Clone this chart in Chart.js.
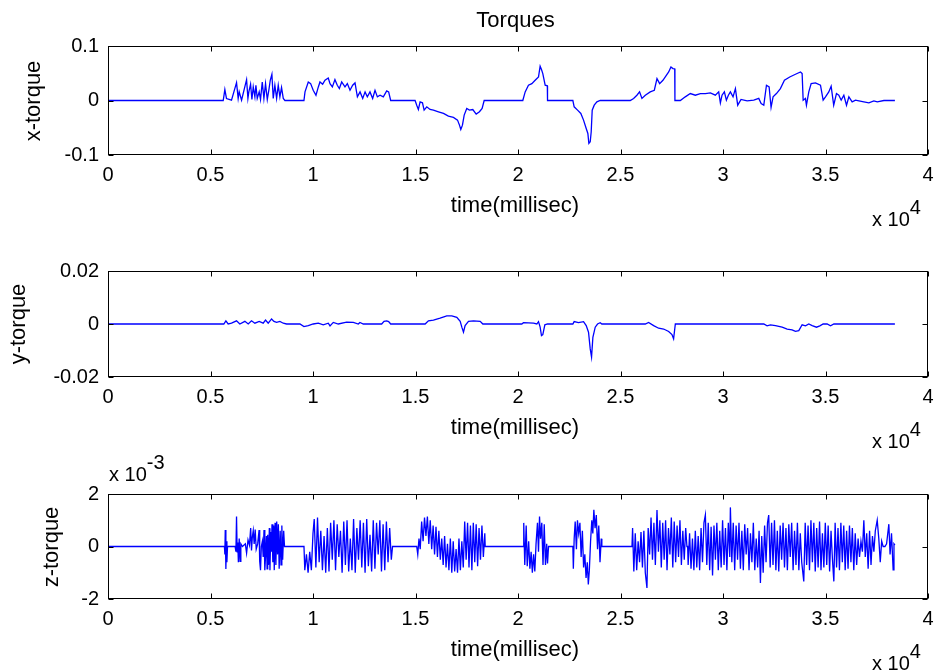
<!DOCTYPE html>
<html>
<head>
<meta charset="utf-8">
<title>Torques</title>
<script src="https://cdn.jsdelivr.net/npm/chart.js@4.4.0/dist/chart.umd.min.js"></script>
<style>
  html, body { margin: 0; padding: 0; background: #fff; }
  #fig { position: relative; width: 938px; height: 672px; overflow: hidden; }
  #fig canvas { position: absolute; left: 0; }
  #fig svg { position: absolute; left: 0; top: 0; pointer-events: none; }
</style>
</head>
<body>
<div id="fig">
  <canvas id="xChart" width="938" height="164" style="top:31px"></canvas>
  <canvas id="yChart" width="938" height="161" style="top:256px"></canvas>
  <canvas id="zChart" width="938" height="160" style="top:479px"></canvas>
  <svg width="938" height="672" font-family="Liberation Sans, Arial, sans-serif" fill="#000">
    <text x="515.5" y="27" font-size="22" text-anchor="middle">Torques</text>

    <text transform="translate(40,101) rotate(-90)" font-size="22" text-anchor="middle">x-torque</text>
    <text transform="translate(25,324) rotate(-90)" font-size="22" text-anchor="middle">y-torque</text>
    <text transform="translate(58,547) rotate(-90)" font-size="22" text-anchor="middle">z-torque</text>

    <text x="515" y="212" font-size="22" text-anchor="middle">time(millisec)</text>
    <text x="515" y="434" font-size="22" text-anchor="middle">time(millisec)</text>
    <text x="515" y="656" font-size="22" text-anchor="middle">time(millisec)</text>

    <text x="872" y="226" font-size="20">x 10<tspan dy="-12">4</tspan></text>
    <text x="872" y="448" font-size="20">x 10<tspan dy="-12">4</tspan></text>
    <text x="872" y="670" font-size="20">x 10<tspan dy="-12">4</tspan></text>
    <text x="109" y="481" font-size="20">x 10<tspan dy="-12">-3</tspan></text>
  </svg>
</div>
<script>
// ---- dados (tempo em ms) ----
const xTicks = [0, 5000, 10000, 15000, 20000, 25000, 30000, 35000, 40000];

const xTorqueTime = [0, 5620, 5700, 5780, 6025, 6270, 6350, 6400, 6515, 6760, 6825, 6870, 6955, 7020, 7085, 7165, 7215, 7280, 7375, 7440, 7525, 7605, 7685, 7770, 7850, 7915, 7995, 8060, 8140, 8225, 8305, 8385, 8465, 8550, 8630,
  9558, 9610, 9770, 9885, 10010, 10145, 10260, 10340, 10470, 10585, 10745, 10830, 10945, 11070, 11185, 11285, 11400, 11560, 11675, 11805, 11935, 12050, 12165, 12295, 12425, 12540, 12650, 12780, 12910, 13025, 13140, 13270, 13430, 13595, 13690, 13790,
  14980, 15060, 15140, 15225, 15340, 15420, 15550, 15710, 15875, 16120, 16365, 16605, 16850, 17050, 17145, 17210, 17290, 17375, 17500, 17630, 17795, 17960, 18120, 18250, 18350,
  20234, 20350, 20510, 20675, 20836, 21000, 21080, 21145, 21210, 21325, 21430, 21440,
  22676, 22740, 22905, 23065, 23197, 23327, 23408, 23457, 23523, 23571, 23620, 23718, 23848, 24010,
  25476, 25640, 25800, 25930, 26045, 26210, 26450, 26650, 26780, 26910, 27070, 27235, 27350, 27460, 27560, 27645, 27655,
  27918, 28160, 28406, 28650, 28895, 29140, 29383, 29627, 29790, 29872, 29953, 30067, 30165, 30262, 30360, 30490, 30605, 30718, 30880, 31175, 31500, 31745, 31860, 31990, 32120, 32250, 32345, 32443, 32607, 32800, 32997, 33255, 33535, 33780, 33860, 33910,
  34020, 34070, 34185, 34300, 34510, 34755, 34885, 35000, 35160, 35275, 35400, 35535, 35650, 35765, 35895, 36025, 36140, 36300, 36465, 36630, 36870, 37116, 37360, 37525, 37850, 38385];
const xTorque = [0, 0, 0.0201, 0.0036, 0.0006, 0.0329, 0.0038, 0.0158, 0.0006, 0.0383, 0.0038, 0.0158, 0.0299, 0.0019, 0.0249, 0.0067, 0.028, 0.0038, 0.0158, 0.0019, 0.034, 0.0038, 0.031, 0.0019, 0.0201, 0.0371, 0.0481, 0.0038, 0.028, 0.0038, 0.028, 0.0067, 0.0238, 0.0038, 0,
  0, 0.0158, 0.034, 0.031, 0.0188, 0.0097, 0.0249, 0.034, 0.0299, 0.0371, 0.0414, 0.031, 0.0249, 0.0383, 0.028, 0.0219, 0.034, 0.0249, 0.031, 0.0188, 0.028, 0.0322, 0.0067, 0.0158, 0.0038, 0.0158, 0.0067, 0.0158, 0.0038, 0.0188, 0.0067, 0.0097, 0.0067, 0.0176, 0.0158, 0,
  0, -0.0086, -0.0165, -0.0025, -0.0043, -0.0177, -0.0116, -0.0165, -0.0177, -0.0207, -0.0238, -0.0287, -0.0311, -0.036, -0.0452, -0.0531, -0.0452, -0.0268, -0.0146, -0.0177, -0.0165, -0.025, -0.0207, -0.0146, 0,
  0, 0.0158, 0.028, 0.031, 0.0371, 0.0432, 0.0628, 0.0567, 0.0494, 0.028, 0.027, 0,
  0, -0.0116, -0.0177, -0.0238, -0.036, -0.0514, -0.0604, -0.0786, -0.0756, -0.0573, -0.0177, -0.0086, -0.0025, 0,
  0, 0.0038, 0.0097, 0.0158, 0.0038, 0.0097, 0.0158, 0.0188, 0.0401, 0.031, 0.0371, 0.0463, 0.0524, 0.0615, 0.0585, 0.058, 0,
  0, 0.0067, 0.0127, 0.0097, 0.0127, 0.0127, 0.014, 0.0097, 0.0158, -0.0043, 0.0097, 0.0158, 0.0006, 0.0097, 0.0158, 0.0067, 0.0219, -0.0086, 0.0019, -0.0007, 0.0006, 0.0038, -0.0055, -0.0086, 0.028, 0.0249, -0.0128, 0.0067, 0.0127, 0.0219, 0.0371, 0.0432, 0.0481, 0.0524, 0.0494, 0.0006,
  0.0038, -0.0086, 0.0158, 0.031, 0.0322, 0.028, 0.0006, 0.0067, 0.0158, 0.0262, -0.0086, 0.0127, 0.0097, 0.0006, 0.0097, -0.0086, 0.0067, -0.0025, 0.0006, -0.0007, -0.0025, -0.0043, -0.0007, -0.0025, 0, 0];

const yTorqueTime = [0, 5650, 5750, 5862, 6025, 6270, 6430, 6677, 6840, 7000, 7165, 7375, 7570, 7685, 7815, 7980, 8095, 8225, 8385, 8550, 8710,
  9363, 9558, 9770, 10010, 10260, 10500, 10745, 10830, 10990, 11235, 11640, 11968, 12210, 12290, 12455, 13350, 13465, 13595, 13690, 13790,
  15470, 15630, 15875, 16200, 16525, 16770, 17015, 17180, 17260, 17340, 17420, 17585, 17830, 18155, 18285,
  20185, 20267, 20510, 20755, 20918, 21000, 21080, 21145, 21210, 21310, 21440,
  22676, 22740, 22950, 23197, 23327, 23440, 23523, 23588, 23653, 23767, 23880, 24010, 24090,
  26210, 26370, 26617, 26860, 27105, 27350, 27510, 27590, 27675,
  31990, 32150, 32315, 32560, 32885, 33130, 33370, 33535, 33697, 33860, 34025, 34185, 34350, 34560, 34725, 34885, 35080, 35245, 35410, 38385];
const yTorque = [0, 0, 0.0012, 0, 0.0003, 0.0012, 0, 0.001, 0, 0.0012, 0.0003, 0.001, 0.0003, 0.0015, 0.0003, 0.0019, 0.001, 0.0006, 0.001, 0.0003, 0,
  0, -0.001, -0.0006, 0, 0.0003, -0.0003, 0.0003, -0.0007, 0.0006, 0, 0.0007, 0.0006, 0, 0.0006, 0, 0, 0.001, 0.0012, 0.0009, 0,
  0, 0.0012, 0.0015, 0.0022, 0.0031, 0.0031, 0.0025, 0.001, -0.0012, -0.0031, -0.0006, 0.001, 0.0012, 0.001, 0,
  0, 0.0005, 0.0004, 0.0003, 0, 0.0009, -0.0012, -0.0044, -0.004, -0.0003, 0,
  0, 0.0009, 0.0005, 0.0009, -0.0006, -0.0031, -0.0094, -0.0125, -0.005, -0.0012, 0, 0.0005, 0,
  0, 0.0006, -0.0006, -0.0016, -0.0019, -0.0028, -0.004, -0.0056, 0,
  0, -0.0007, -0.0003, -0.0006, -0.0012, -0.0019, -0.0022, -0.0028, -0.0025, -0.0003, -0.0007, 0, -0.0006, -0.0012, -0.0007, 0, 0, -0.0007, 0, 0];

// z-torque em unidades de 1e-3
const zTorqueTime = [0, 5680, 5700, 5720, 5750, 5780, 5800, 5830, 6200, 6240, 6270, 6300, 6330, 6360, 6400, 6440, 6480, 6560, 6700, 6760, 6830, 6900, 6960, 7000, 7040, 7085, 7130, 7180, 7230, 7300,
  7370, 7400, 7440, 7480, 7530, 7570, 7610, 7650, 7690, 7730, 7760, 7790, 7830, 7870, 7900, 7940, 7970, 8000, 8040, 8080, 8110, 8150, 8190, 8230, 8270, 8310, 8350, 8400, 8440, 8480, 8520, 8570, 8610,
  9560, 9600, 9680, 9760, 9840, 9920, 10000, 10060, 10140, 10220, 10300, 10380, 10460, 10540, 10620, 10700, 10780, 10860, 10940, 11020, 11100, 11180, 11260, 11340, 11420, 11500, 11580, 11660, 11740, 11820,
  11900, 11980, 12060, 12140, 12220, 12300, 12380, 12460, 12540, 12620, 12700, 12780, 12860, 12940, 13020, 13100, 13180, 13260, 13340, 13420, 13500, 13580, 13660, 13740, 13820, 13880,
  15060, 15110, 15170, 15230, 15300, 15370, 15440, 15510, 15580, 15650, 15720, 15790, 15860, 15930, 16000, 16070, 16140, 16210, 16280, 16350, 16420, 16490, 16560, 16630, 16700, 16770, 16840, 16910, 16980,
  17050, 17120, 17190, 17260, 17330, 17400, 17470, 17540, 17610, 17680, 17750, 17820, 17890, 17960, 18030, 18100, 18170, 18240, 18310, 18380, 18400,
  20260, 20280, 20330, 20400, 20450, 20520, 20580, 20640, 20700, 20760, 20820, 20880, 20950, 21000, 21050, 21100, 21160, 21220, 21280, 21340, 21400, 21440, 21490,
  22676, 22700, 22740, 22790, 22850, 22900, 22960, 23020, 23080, 23140, 23200, 23260, 23320, 23380, 23430, 23480, 23540, 23600, 23650, 23700, 23760, 23820, 23880, 23940, 24000, 24060, 24090,
  25560, 25590, 25650, 25720, 25790, 25860, 25930, 26000, 26070, 26140, 26210, 26290, 26350, 26420, 26490, 26560, 26630, 26700, 26780, 26850, 26920, 26990, 27060, 27130, 27200, 27270, 27340, 27410,
  27480, 27550, 27620, 27690, 27760, 27830, 27900, 27970, 28040, 28110, 28180, 28240,
  28275, 28300, 28370, 28440, 28510, 28580, 28650, 28720, 28790, 28860, 28930, 29000, 29070, 29140, 29210, 29280, 29350, 29420, 29490, 29560, 29630, 29700, 29770, 29840, 29910, 29980, 30050, 30120, 30190,
  30260, 30330, 30360, 30430, 30500, 30570, 30640, 30710, 30780, 30850, 30920, 30990, 31060, 31130, 31200, 31270, 31340, 31410, 31480, 31550, 31620, 31690, 31760, 31825, 31890, 31960, 32030, 32100, 32170,
  32230, 32300, 32370, 32440, 32510, 32580, 32650, 32720, 32790, 32860, 32930, 33000, 33070, 33140, 33210, 33280, 33350, 33420, 33490, 33560, 33630, 33700, 33770, 33840, 33940, 34010, 34080, 34150, 34220,
  34290, 34360, 34430, 34500, 34570, 34640, 34710, 34780, 34850, 34920, 34990, 35060, 35130, 35200, 35270, 35340, 35407, 35470, 35540, 35610, 35680, 35750, 35820, 35890, 35960, 36030, 36100, 36170, 36240,
  36310, 36380, 36450, 36520, 36590, 36660, 36730, 36800, 36870, 36940, 37010, 37080, 37150, 37220, 37290, 37360, 37430, 37523, 37600, 37670, 37740, 37810, 37900, 37980, 38090, 38150, 38220, 38300, 38340, 38385];
const zTorque = [0, 0, -0.3, 0.63, -0.86, 0.2, -0.6, 0, 0, -0.2, 1.14, -0.2, 0.15, -0.6, 0.3, -0.57, 0.1, 0, 0.1, -0.25, 0.25, 0.05, 0.7, -0.15, 0.35, 0.6, 0.1, 0.65, -0.1, 0.1,
  0.63, -0.56, -0.9, 0, 0.2, -0.4, 0.63, -0.9, -0.3, 0.4, -0.85, 0.45, -0.7, 0.7, -0.9, 0.55, -0.2, 0.85, -0.6, 0.8, -0.9, 0.9, -0.7, 0.95, -0.3, 0.85, -0.85, 0.6, -0.7, 0.8, -0.5, 0.6, 0,
  0, -0.9, -0.3, -1.0, -0.2, -0.9, 0.5, 1.05, -0.8, 1.1, -0.6, 0.6, -0.9, 0.4, -1.0, 0.7, -0.95, 0.9, -0.5, 1.0, -0.9, 0.85, -0.4, 0.6, -1.0, 0.95, -0.7, 1.0, -0.95, 0.3,
  -0.9, 1.05, -1.0, 0.7, -0.5, 1.0, -0.8, 0.9, -1.0, 1.05, -0.75, 0.45, -0.95, 1.0, -0.85, 0.9, -0.3, 1.0, -0.95, 0.85, -0.9, 0.95, -0.6, 0.7, -0.5, 0,
  0, -0.3, 0.3, -0.1, 0.95, 0.2, 1.1, 0.4, 1.14, 0.1, 1.0, -0.1, 0.8, -0.3, 0.75, -0.4, 0.6, -0.5, 0.3, -0.7, 0.4, -0.8, 0.1, -0.9, 0.3, -1.0, 0.2, -0.95, -0.1,
  -1.0, 0.3, -0.9, 0.2, -0.8, 0.95, -0.5, 0.9, -0.8, 0.8, -0.9, 0.9, -0.6, 0.85, -0.75, 0.7, -0.5, 0.8, -0.4, 0.5, 0,
  0, 0.9, -0.7, 0.8, -0.75, 0.2, -0.85, -0.2, -1.0, -0.3, -0.95, 0.1, 0.9, -0.2, 1.14, 0.3, 0.9, -0.7, 0.85, -0.7, 0.1, -0.65, 0,
  0, -0.85, 0.3, 0.95, -0.1, 1.0, 0.5, 0.9, -0.4, 0.6, -0.8, -0.3, -1.2, -0.6, -1.45, -0.9, 0.2, 1.0, 0.5, 1.4, 0.7, 1.2, -0.1, 0.8, -0.6, 0.3, 0,
  0, 0.7, -0.95, 0.5, -0.9, 0.2, -0.6, 0.55, -0.8, 0.6, -1.0, -1.58, 0.7, -0.3, 1.1, -0.5, 0.9, -0.7, 1.39, -0.2, 1.0, -0.8, 0.9, -0.5, 1.0, -0.9, 0.7, -0.3,
  1.1, -0.8, 0.95, -0.6, 0.8, -0.4, 1.0, -0.7, 0.6, -0.5, 0.7, 0,
  0, -0.7, 0.5, -0.85, 0.3, -0.9, 0.6, -0.8, 0.4, -0.9, 0.7, -0.6, 0.9, 1.2, -0.7, 0.9, -0.9, 0.75, -1.1, 0.8, -0.5, 0.9, -0.9, 0.6, -0.8, 1.0, -0.7, 0.7, -0.9,
  0.9, -0.4, 1.49, -0.6, 0.9, -0.9, 0.8, -0.5, 0.9, -0.85, 0.6, -0.9, 0.85, -0.3, 0.7, -0.9, 0.5, -0.6, 0.9, -0.9, 0.3, -0.8, 0.6, -1.39, 0.4, -1.0, 0.8, -0.6, 0.9,
  1.2, -0.8, 0.9, -0.7, 1.0, -0.9, 0.6, -0.95, 0.8, -0.5, 0.9, -0.8, 0.7, -0.9, 0.85, -0.4, 0.9, -0.9, 0.6, -0.7, 0.9, -0.9, 0.5, -0.6, -1.33, 0.9, -0.7, 0.8, -0.9,
  1.0, -0.6, 0.9, -0.95, 0.7, -0.8, 0.95, -0.9, 0.5, -0.8, 0.9, -0.7, 0.8, -0.95, 0.6, -0.5, -1.33, 0.9, -0.8, 0.7, -0.9, 0.9, -0.6, 0.8, -0.9, 0.6, -0.85, 0.8, -0.6,
  0.7, -0.9, 0.5, -0.7, 0.3, -0.4, 0.2, -0.2, 1.0, -0.4, 0.5, -0.85, 0.6, -0.7, 0.4, -0.2, 0.6, 1.0, 0.3, -0.6, 0.2, 0, 0, 0.1, 0.85, -0.3, 0.5, -0.89, 0.1, 0.05];

// ---- moldura estilo MATLAB: caixa + ticks para dentro ----
const frame = {
  id: 'frame',
  afterDraw(chart) {
    const { ctx, chartArea: a, scales: { x, y } } = chart;
    const L = Math.round(a.left) + 0.5, R = Math.round(a.right) - 0.5;
    const T = Math.round(a.top) + 0.5, B = Math.round(a.bottom) - 0.5;
    const tl = 5;
    ctx.save();
    ctx.strokeStyle = '#000';
    ctx.lineWidth = 1;
    ctx.strokeRect(L, T, R - L, B - T);
    ctx.beginPath();
    x.ticks.forEach(t => {
      const px = Math.round(x.getPixelForValue(t.value)) + 0.5;
      ctx.moveTo(px, B); ctx.lineTo(px, B - tl);
      ctx.moveTo(px, T); ctx.lineTo(px, T + tl);
    });
    y.ticks.forEach(t => {
      const py = Math.round(y.getPixelForValue(t.value)) + 0.5;
      ctx.moveTo(L, py); ctx.lineTo(L + tl, py);
      ctx.moveTo(R, py); ctx.lineTo(R - tl, py);
    });
    ctx.stroke();
    ctx.restore();
  }
};

const tickFont = { family: 'Liberation Sans, Arial, sans-serif', size: 20 };

function makePanel(id, times, values, yLim, yTicks) {
  const points = times.map((t, i) => ({ x: t, y: values[i] }));
  return new Chart(document.getElementById(id), {
    type: 'line',
    data: { datasets: [{ data: points, borderColor: '#0000ff', borderWidth: 1.3, pointRadius: 0, tension: 0, fill: false }] },
    options: {
      responsive: false,
      animation: false,
      events: [],
      layout: { padding: { top: 15, right: 10, bottom: 0, left: 0 } },
      plugins: { legend: { display: false }, tooltip: { enabled: false } },
      scales: {
        x: {
          type: 'linear', min: 0, max: 40000,
          grid: { display: false, drawTicks: false },
          border: { display: false },
          afterBuildTicks: s => { s.ticks = xTicks.map(v => ({ value: v })); },
          afterFit: s => { s.height = 40; s.paddingLeft = 0; s.paddingRight = 0; },
          ticks: { padding: 8, color: '#000', font: tickFont, maxRotation: 0, autoSkip: false, callback: v => String(v / 1e4) }
        },
        y: {
          type: 'linear', min: -yLim, max: yLim,
          grid: { display: false, drawTicks: false },
          border: { display: false },
          afterBuildTicks: s => { s.ticks = yTicks.map(v => ({ value: v })); },
          afterFit: s => { s.width = 108; s.paddingTop = 0; s.paddingBottom = 0; },
          ticks: { padding: 9, color: '#000', font: tickFont, autoSkip: false, callback: v => String(v) }
        }
      }
    },
    plugins: [frame]
  });
}

makePanel('xChart', xTorqueTime, xTorque, 0.1, [-0.1, 0, 0.1]);
makePanel('yChart', yTorqueTime, yTorque, 0.02, [-0.02, 0, 0.02]);
makePanel('zChart', zTorqueTime, zTorque, 2, [-2, 0, 2]);
</script>
</body>
</html>
